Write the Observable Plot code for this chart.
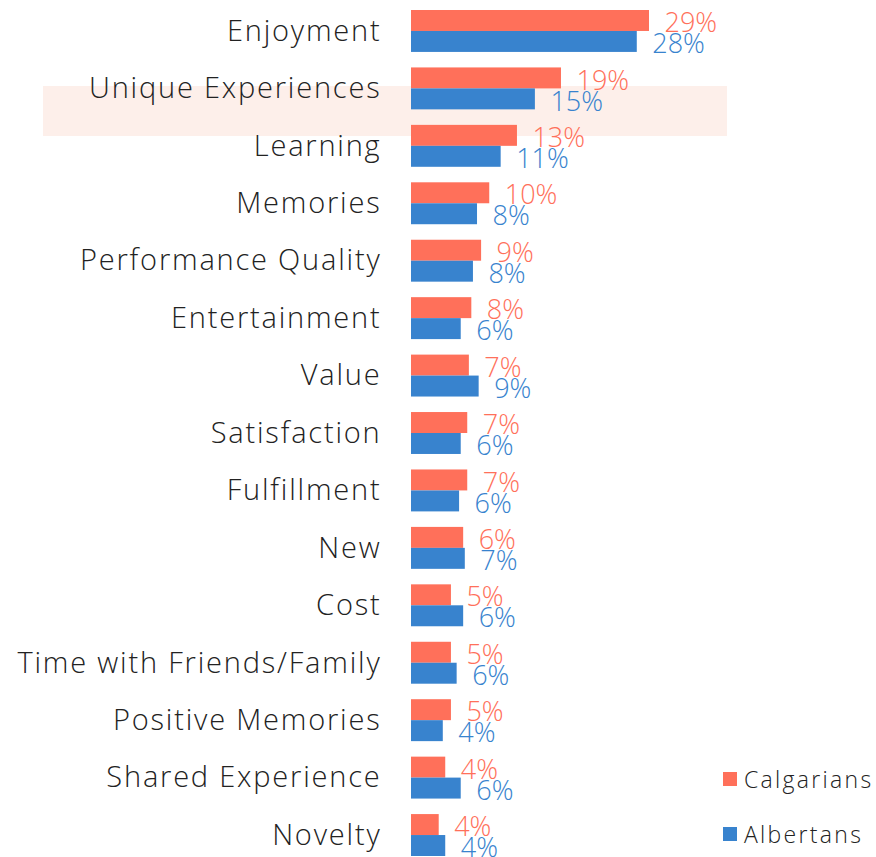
<!DOCTYPE html>
<html>
<head>
<meta charset="utf-8">
<script src="https://cdn.jsdelivr.net/npm/d3@7"></script>
<script src="https://cdn.jsdelivr.net/npm/@observablehq/plot@0.6"></script>
<style>
  html, body { margin: 0; padding: 0; background: #fff; }
  #wrap { position: relative; width: 876px; height: 857px; font-family: "Open Sans", sans-serif; font-weight: 300; }
  #hl { position: absolute; left: 43px; top: 86px; width: 684px; height: 50px; background: #fdefea; z-index: 0; }
  #chart { position: absolute; left: 0; top: 0; z-index: 1; }
  #legend { position: absolute; left: 723px; top: 766px; z-index: 2; color: #222; font-size: 23px; letter-spacing: 2.3px; }
  .item { display: flex; align-items: center; height: 26px; margin-bottom: 29px; }
  .sw { width: 14px; height: 14px; margin-right: 7px; }
</style>
</head>
<body>
<div id="wrap">
  <div id="hl"></div>
  <div id="chart"></div>
  <div id="legend"></div>
</div>
<script>
const categories = ["Enjoyment", "Unique Experiences", "Learning", "Memories", "Performance Quality", "Entertainment", "Value", "Satisfaction", "Fulfillment", "New", "Cost", "Time with Friends/Family", "Positive Memories", "Shared Experience", "Novelty"];
const seriesNames = ["Calgarians", "Albertans"];
const seriesColors = ["#ff705a", "#3883ce"];
const calgarians = [29.2, 18.4, 13.0, 9.6, 8.6, 7.4, 7.1, 6.9, 6.9, 6.4, 4.9, 4.9, 4.9, 4.2, 3.4];
const albertans = [27.7, 15.2, 11.0, 8.1, 7.6, 6.1, 8.3, 6.1, 5.9, 6.6, 6.4, 5.6, 3.9, 6.1, 4.2];
const calgariansLabels = ["29%", "19%", "13%", "10%", "9%", "8%", "7%", "7%", "7%", "6%", "5%", "5%", "5%", "4%", "4%"];
const albertansLabels = ["28%", "15%", "11%", "8%", "8%", "6%", "9%", "6%", "6%", "7%", "6%", "6%", "4%", "6%", "4%"];

const data = categories.map((c, i) => ({category: c, cal: calgarians[i], alb: albertans[i], calLabel: calgariansLabels[i], albLabel: albertansLabels[i]}));

const yTop = 10, yBottom = 856, padIn = 0.27;
const step = (yBottom - yTop) / (categories.length - padIn);
const bw = step * (1 - padIn);
const half = bw / 2;

const chart = Plot.plot({
  width: 876,
  height: 857,
  marginLeft: 411,
  marginRight: 0,
  marginTop: 0,
  marginBottom: 0,
  style: {fontFamily: "'Open Sans', sans-serif", fontWeight: 300, fontSize: "29px", color: "#222", background: "transparent", overflow: "visible"},
  x: {domain: [0, 57.05], axis: null},
  y: {domain: categories, range: [yTop, yBottom], paddingInner: padIn, paddingOuter: 0, align: 0, round: false, label: null, axis: null},
  marks: [
    Plot.barX(data, {y: "category", x: "cal", fill: seriesColors[0], insetBottom: half}),
    Plot.barX(data, {y: "category", x: "alb", fill: seriesColors[1], insetTop: half}),
    Plot.text(data, {y: "category", x: "cal", text: "calLabel", fill: seriesColors[0], textAnchor: "start", dx: 15, dy: -half / 2 + 2.5, fontSize: 27, fontWeight: 300}),
    Plot.text(data, {y: "category", x: "alb", text: "albLabel", fill: seriesColors[1], textAnchor: "start", dx: 15, dy: half / 2 + 2.5, fontSize: 27, fontWeight: 300}),
    Plot.axisY({anchor: "left", tickSize: 0, tickPadding: 30, label: null, fontSize: 29, fontWeight: 300, fill: "#222"})
  ]
});
chart.querySelectorAll("[aria-label='y-axis tick label'] text").forEach(t => t.setAttribute("letter-spacing", "1.8"));
document.getElementById("chart").appendChild(chart);

const legend = document.getElementById("legend");
seriesNames.forEach((s, i) => {
  const item = document.createElement("div");
  item.className = "item";
  const sw = document.createElement("div");
  sw.className = "sw";
  sw.style.background = seriesColors[i];
  const t = document.createElement("span");
  t.textContent = s;
  item.appendChild(sw);
  item.appendChild(t);
  legend.appendChild(item);
});
</script>
</body>
</html>
